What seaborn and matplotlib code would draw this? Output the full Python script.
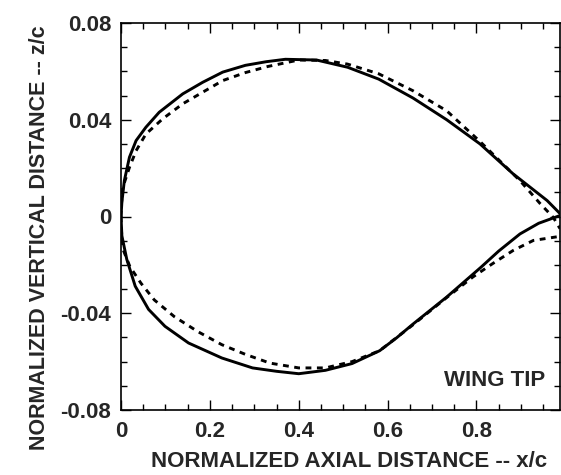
import numpy as np
import pandas as pd
import matplotlib
matplotlib.use("Agg")
import matplotlib.pyplot as plt
from matplotlib.ticker import MultipleLocator, FixedLocator
import seaborn as sns

# --- data ---
solid_upper_x = [0, 0.002, 0.0075, 0.019, 0.034, 0.056, 0.086, 0.139, 0.184, 0.229, 0.28, 0.327,
                 0.37, 0.44, 0.51, 0.58, 0.657, 0.733, 0.808, 0.882, 0.959, 0.988]
solid_upper_z = [0, 0.006, 0.0148, 0.0245, 0.0314, 0.0369, 0.0431, 0.0507, 0.0555, 0.0597, 0.0625, 0.064,
                 0.065, 0.0647, 0.0617, 0.0568, 0.049, 0.040, 0.030, 0.0177, 0.0066, 0.0012]
solid_lower_x = [0, 0.002, 0.013, 0.032, 0.062, 0.099, 0.152, 0.227, 0.296, 0.35, 0.40, 0.46,
                 0.52, 0.582, 0.62, 0.657, 0.733, 0.81, 0.85, 0.898, 0.94, 0.988]
solid_lower_z = [0, -0.008, -0.0177, -0.0288, -0.0384, -0.0454, -0.0523, -0.0585, -0.0626, -0.064, -0.065, -0.0636,
                 -0.0608, -0.0555, -0.0502, -0.0445, -0.0333, -0.021, -0.0143, -0.0072, -0.0028, 0.0004]
dashed_upper_x = [0, 0.001, 0.004, 0.019, 0.034, 0.056, 0.094, 0.139, 0.184, 0.229, 0.28, 0.33,
                  0.40, 0.46, 0.51, 0.58, 0.657, 0.733, 0.808, 0.898, 0.943, 0.973, 0.988]
dashed_upper_z = [0, 0.005, 0.012, 0.0203, 0.0272, 0.0341, 0.0404, 0.0466, 0.0514, 0.0562, 0.0595, 0.062,
                  0.0647, 0.0645, 0.063, 0.059, 0.052, 0.0437, 0.031, 0.0148, 0.0054, -0.0004, -0.005]
dashed_lower_x = [0, 0.001, 0.005, 0.02, 0.045, 0.075, 0.12, 0.173, 0.227, 0.28, 0.335, 0.40,
                  0.46, 0.52, 0.582, 0.657, 0.733, 0.792, 0.837, 0.883, 0.928, 0.988]
dashed_lower_z = [0, -0.006, -0.0138, -0.0207, -0.0276, -0.0345, -0.0414, -0.0476, -0.053, -0.057, -0.0606, -0.0626,
                  -0.0626, -0.060, -0.0555, -0.0448, -0.0335, -0.025, -0.0194, -0.014, -0.0099, -0.0082]

x_tick_vals = [0, 0.2, 0.4, 0.6, 0.8]
x_tick_labels = ["0", "0.2", "0.4", "0.6", "0.8"]
y_tick_vals = [-0.08, -0.04, 0, 0.04, 0.08]
y_tick_labels = ["-0.08", "-0.04", "0", "0.04", "0.08"]

sns.set_theme(style="white")
plt.rcParams['font.family'] = ['Liberation Sans', 'DejaVu Sans']
plt.rcParams['font.weight'] = 'bold'

fig = plt.figure(figsize=(5.61, 4.75), dpi=100)
ax = fig.add_axes([121/561, 1 - 410/475, (560 - 121)/561, (410 - 23)/475])

def seg(xs, zs, name):
    return pd.DataFrame({"x": xs, "z": zs, "seg": name})

df_solid = pd.concat([seg(solid_upper_x, solid_upper_z, "su"), seg(solid_lower_x, solid_lower_z, "sl")])
df_dash = pd.concat([seg(dashed_upper_x, dashed_upper_z, "du"), seg(dashed_lower_x, dashed_lower_z, "dl")])

for name, d in df_solid.groupby("seg"):
    sns.lineplot(data=d, x="x", y="z", sort=False, ax=ax, color="black", lw=2.1, estimator=None)
for name, d in df_dash.groupby("seg"):
    sns.lineplot(data=d, x="x", y="z", sort=False, ax=ax, color="black", lw=2.1,
                 estimator=None, linestyle=(0, (2.0, 1.9)))

ax.set_xlim(0, 0.988)
ax.set_ylim(-0.08, 0.08)
ax.xaxis.set_major_locator(FixedLocator(x_tick_vals))
ax.set_xticklabels(x_tick_labels)
ax.yaxis.set_major_locator(FixedLocator(y_tick_vals))
ax.set_yticklabels(y_tick_labels)
ax.xaxis.set_minor_locator(MultipleLocator(0.05))
ax.yaxis.set_minor_locator(MultipleLocator(0.01))
ax.tick_params(which="both", direction="in", top=True, right=True, bottom=True, left=True,
               color="black", width=1.0)
ax.tick_params(which="major", length=7, labelsize=16)
ax.tick_params(axis="x", which="major", pad=8)
ax.tick_params(axis="y", which="major", pad=7)
ax.tick_params(which="minor", length=4)
for lab in ax.get_xticklabels() + ax.get_yticklabels():
    lab.set_fontweight("bold")
for sp in ax.spines.values():
    sp.set_color("black")
    sp.set_linewidth(1.2)

ax.set_xlabel("NORMALIZED AXIAL DISTANCE -- x/c", fontsize=16, fontweight="bold")
ax.set_ylabel("NORMALIZED VERTICAL DISTANCE -- z/c", fontsize=15.5, fontweight="bold")
ax.xaxis.set_label_coords((349 - 121) / 439, (410 - 451) / 387)
ax.yaxis.set_label_coords((50 - 121) / 439, (410 - 238) / 387)
ax.text(0.955, -0.068, "WING TIP", fontsize=16, fontweight="bold", ha="right", va="center")
ax.grid(False)

fig.savefig("out.png", dpi=100)
